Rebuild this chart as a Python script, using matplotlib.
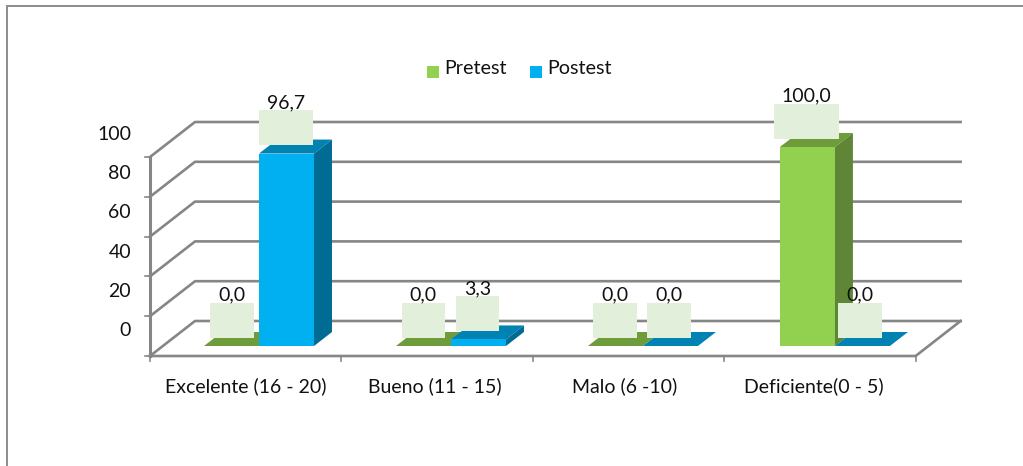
import matplotlib
matplotlib.use("Agg")
import matplotlib.pyplot as plt
from matplotlib.patches import Polygon, Rectangle

plt.rcParams['font.family'] = ['Lato', 'DejaVu Sans']

categories = ["Excelente (16 - 20)", "Bueno (11 - 15)", "Malo (6 -10)", "Deficiente(0 - 5)"]
pretest = [0.0, 0.0, 0.0, 100.0]
postest = [96.7, 3.3, 0.0, 0.0]
y_ticks = [0, 20, 40, 60, 80, 100]

W, H = 1023, 466
# escala: pixeles por categoria y por unidad de valor
PX_CAT = 191.4
PX_VAL = 1.99
X0, Y0 = 150, 356


def dx(px):
    return px / PX_CAT


def dy(px):
    return px / PX_VAL


fig = plt.figure(figsize=(W / 100, H / 100), dpi=100)
ax = fig.add_axes([0, 0, 1, 1])
ax.set_xlim(dx(-X0), dx(W - X0))
ax.set_ylim(dy(Y0 - H), dy(Y0))
ax.axis("off")

GRID = "#868686"
depth_x, depth_y = dx(45), dy(35)
n = len(categories)

# borde exterior, solo arriba e izquierda
ax.plot([dx(7 - X0), dx(7 - X0), dx(W - X0)], [dy(Y0 - H), dy(Y0 - 6), dy(Y0 - 6)],
        color="#8c8c8c", lw=1.4, zorder=1, solid_joinstyle="miter")

# paredes: lineas de la grilla en la pared lateral y en el fondo
for v in y_ticks:
    ax.plot([0, depth_x, n + depth_x], [v, v + depth_y, v + depth_y], color=GRID, lw=1.9, zorder=2)
    ax.plot([dx(-5), 0], [v, v], color=GRID, lw=1.2, zorder=2)
    ax.text(dx(-19), v * 0.986 + dy(25.5), str(v), ha="right", va="center", fontsize=14, color="#111111")

# piso y eje vertical
ax.plot([0, n, n + depth_x], [0, 0, depth_y], color=GRID, lw=1.9, zorder=2)
ax.plot([0, 0], [0, 100], color=GRID, lw=2.2, zorder=3)
for i in range(n + 1):
    ax.plot([i, i], [0, dy(-5)], color=GRID, lw=1.2, zorder=2)


def bar3d(x, v, front, top, side, z):
    # cara frontal, tapa y lateral de una barra con profundidad
    w, b = dx(55), dy(10)
    ddx, ddy = dx(18), dy(14)
    ax.add_patch(Polygon([(x, b + v), (x + ddx, b + v + ddy), (x + w + ddx, b + v + ddy), (x + w, b + v)],
                         facecolor=top, edgecolor="none", zorder=z))
    ax.add_patch(Polygon([(x + w, b), (x + w + ddx, b + ddy), (x + w + ddx, b + v + ddy), (x + w, b + v)],
                         facecolor=side, edgecolor="none", zorder=z))
    ax.add_patch(Rectangle((x, b), w, v, facecolor=front, edgecolor="none", zorder=z))


def value_label(xc, v, z):
    # etiqueta: recuadro claro con el valor encima
    text = f"{v:.1f}".replace(".", ",")
    bw = {3: 43.5, 4: 54, 5: 65}[len(text)]
    bottom = dy(10) + v + dy(8.5)
    ax.add_patch(Rectangle((xc - dx(bw / 2), bottom), dx(bw), dy(35), facecolor="#e2efda",
                           edgecolor="none", zorder=z))
    ax.text(xc, bottom + dy(42.5), text, ha="center", va="center", fontsize=14, color="#111111", zorder=z + 1)


for i in range(n):
    x_pre = i * 1.003 + dx(54)
    x_post = x_pre + dx(55)
    bar3d(x_pre, pretest[i], "#92d050", "#6f9c3a", "#5f8636", 4)
    bar3d(x_post, postest[i], "#00b0f0", "#0083b3", "#006c94", 5)
    value_label(i + dx(82), pretest[i], 7)
    value_label(i + dx(136), postest[i], 7)
    ax.text(i * 0.99 + 0.5, dy(-30), categories[i], ha="center", va="center", fontsize=14, color="#111111")

# leyenda
for x_px, label, color in [(427, "Pretest", "#92d050"), (530, "Postest", "#00b0f0")]:
    ax.add_patch(Rectangle((dx(x_px - X0), dy(Y0 - 78)), dx(12), dy(12), facecolor=color, edgecolor="none"))
    ax.text(dx(x_px + 17.5 - X0), dy(Y0 - 68), label, ha="left", va="center", fontsize=14.2, color="#111111")

fig.savefig("out.png", dpi=100, facecolor="white")
